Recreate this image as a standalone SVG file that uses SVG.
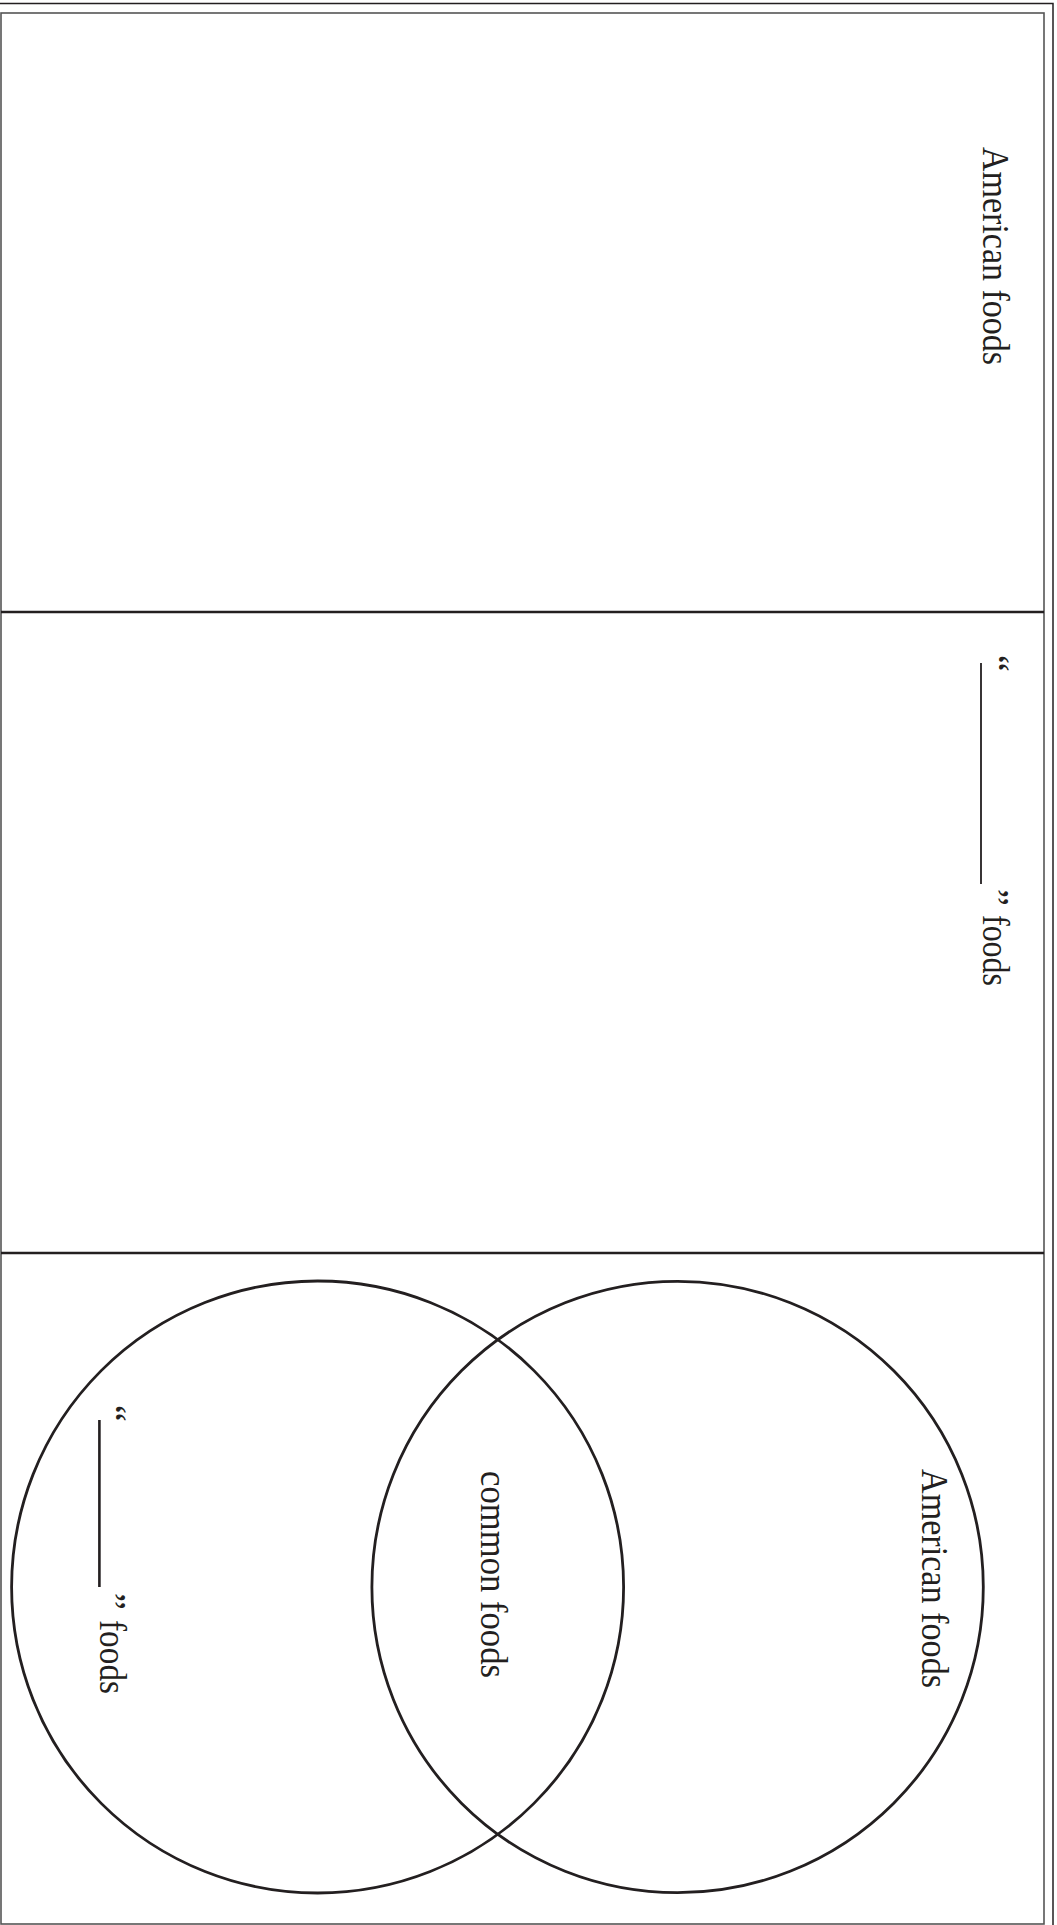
<svg xmlns="http://www.w3.org/2000/svg" width="1057" height="1925" viewBox="0 0 1057 1925">
<style>
.lbl{font-family:"Liberation Serif","Times New Roman",serif;font-size:38px;fill:#231f20}
.div{stroke:#231f20;stroke-width:2.4;fill:none}
.circ{stroke:#231f20;stroke-width:2.8;fill:none}
.blank{stroke:#231f20;stroke-width:1.8}
</style>
<rect width="1057" height="1925" fill="#fff"/>
<g id="frame">
<polyline points="0,3.5 1053,3.5 1053,1925" fill="none" stroke="#231f20" stroke-width="1.5"/>
<rect x="1" y="13" width="1043" height="1911" fill="none" stroke="#555" stroke-width="1.6"/>
</g>
<g id="connectors">
<line class="div" x1="1" y1="612" x2="1044" y2="612"/>
<line class="div" x1="1" y1="1253" x2="1044" y2="1253"/>
</g>
<g id="top-label">
<text class="lbl" transform="translate(983,147) rotate(90)" textLength="218" lengthAdjust="spacingAndGlyphs">American foods</text>
</g>
<g id="middle-label">
<text class="lbl" transform="translate(983,655) rotate(90)">“</text>
<line class="blank" x1="981" y1="663" x2="981" y2="884"/>
<text class="lbl" transform="translate(983,889) rotate(90)">”</text>
<text class="lbl" transform="translate(983,915) rotate(90)" textLength="71" lengthAdjust="spacingAndGlyphs">foods</text>
</g>
<g id="circle-american">
<circle class="circ" cx="677.6" cy="1587" r="305.7"/>
<text class="lbl" transform="translate(922,1469) rotate(90)" textLength="219" lengthAdjust="spacingAndGlyphs">American foods</text>
</g>
<g id="circle-other">
<circle class="circ" cx="317.6" cy="1587" r="306"/>
<text class="lbl" transform="translate(100,1405) rotate(90)">“</text>
<line class="blank" x1="99.4" y1="1420" x2="99.4" y2="1587" style="stroke-width:2.6"/>
<text class="lbl" transform="translate(100,1593) rotate(90)">”</text>
<text class="lbl" transform="translate(100,1620) rotate(90)" textLength="74" lengthAdjust="spacingAndGlyphs">foods</text>
</g>
<g id="common">
<text class="lbl" transform="translate(481,1471) rotate(90)" textLength="207" lengthAdjust="spacingAndGlyphs">common foods</text>
</g>
</svg>
